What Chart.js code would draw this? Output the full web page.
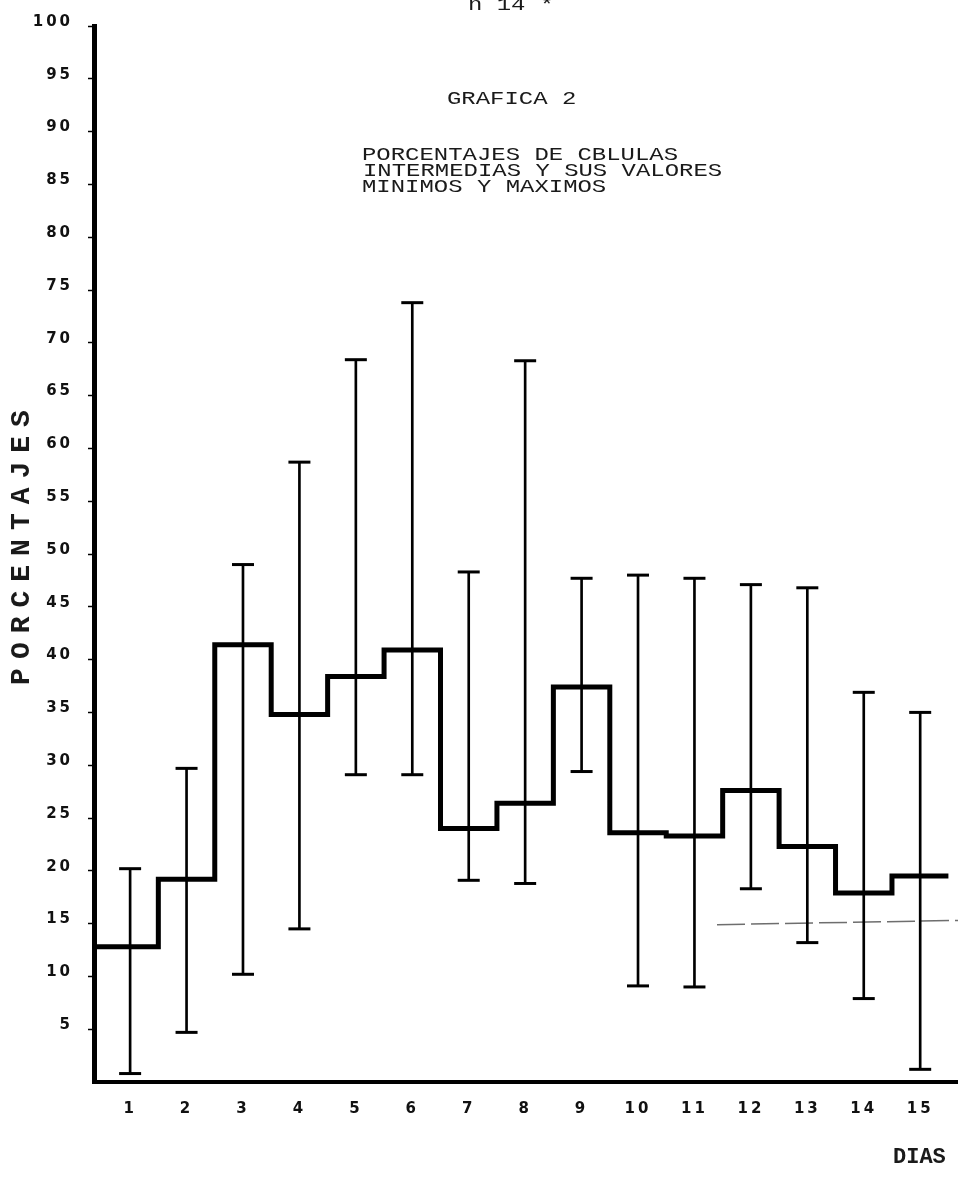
<!DOCTYPE html>
<html lang="es">
<head>
<meta charset="utf-8">
<title>Grafica 2 - Porcentajes de celulas intermedias</title>
<script src="https://cdn.jsdelivr.net/npm/chart.js@4.4.1/dist/chart.umd.min.js"></script>
<style>
  html, body { margin: 0; padding: 0; background: #fff; }
</style>
</head>
<body>
<canvas id="grafica" width="958" height="1187"></canvas>
<script>
// dias de observacion
const dias = [1, 2, 3, 4, 5, 6, 7, 8, 9, 10, 11, 12, 13, 14, 15];
// porcentaje medio de celulas intermedias (linea escalonada)
const promedios = [12.8, 19.2, 41.4, 34.8, 38.4, 40.9, 24.0, 26.4, 37.4, 23.6, 23.3, 27.6, 22.3, 17.9, 19.5];
// valores minimos y maximos de cada dia
const minimos = [0.8, 4.7, 10.2, 14.5, 29.1, 29.1, 19.1, 18.8, 29.4, 9.1, 9.0, 18.3, 13.2, 7.9, 1.2];
const maximos = [20.2, 29.7, 49.0, 58.7, 68.4, 73.8, 48.3, 68.3, 47.7, 48.0, 47.7, 47.1, 46.8, 36.9, 35.0];
// marcas del eje de porcentajes
const marcasY = [5, 10, 15, 20, 25, 30, 35, 40, 45, 50, 55, 60, 65, 70, 75, 80, 85, 90, 95, 100];
// trazo gris que aparece en la hoja (dias 11.4 a 15.7)
const lineaGrisX = [11.4, 15.67];
const lineaGrisY = [14.9, 15.3];

const X_MIN = 0.36;
const X_MAX = 15.67;

const ctxCanvas = document.getElementById('grafica').getContext('2d');
const tieneEspaciado = 'letterSpacing' in ctxCanvas;

// escalones: cada dia ocupa de d-0.5 a d+0.5
const escalones = dias.map((d, i) => ({ x: i === 0 ? X_MIN : d - 0.5, y: promedios[i] }));
escalones.push({ x: dias[dias.length - 1] + 0.5, y: promedios[promedios.length - 1] });

function maquina(ctx, texto, x, y) {
    // letra de maquina de escribir, algo ensanchada
    ctx.save();
    ctx.translate(x, y);
    ctx.scale(1.26, 1);
    ctx.fillText(texto, 0, 0);
    ctx.restore();
}

const textos = {
    id: 'textos',
    beforeDraw(chart) {
        const ctx = chart.ctx;
        ctx.save();
        ctx.fillStyle = '#fff';
        ctx.fillRect(0, 0, chart.width, chart.height);
        ctx.restore();
        if (tieneEspaciado) ctx.letterSpacing = '3px';
    },
    beforeDatasetsDraw(chart) {
        if (tieneEspaciado) chart.ctx.letterSpacing = '0px';
    },
    afterDraw(chart) {
        const ctx = chart.ctx;
        ctx.save();
        ctx.fillStyle = '#1a1a1a';
        ctx.textAlign = 'left';
        ctx.textBaseline = 'alphabetic';
        ctx.font = '19px "Liberation Mono"';
        maquina(ctx, 'n 14 *', 468, 10);
        maquina(ctx, 'GRAFICA 2', 447, 104);
        maquina(ctx, 'PORCENTAJES DE CBLULAS', 362, 160);
        maquina(ctx, 'INTERMEDIAS Y SUS VALORES', 363, 176);
        maquina(ctx, 'MINIMOS Y MAXIMOS', 362, 192);

        ctx.font = 'bold 22px "Liberation Mono"';
        ctx.fillText('DIAS', 893, 1163);

        // titulo vertical
        ctx.translate(22, 547);
        ctx.rotate(-Math.PI / 2);
        ctx.textAlign = 'center';
        ctx.textBaseline = 'middle';
        ctx.font = 'bold 28px "Liberation Mono"';
        if (tieneEspaciado) {
            ctx.letterSpacing = '9px';
            ctx.fillText('PORCENTAJES', 4, 0);
        } else {
            ctx.fillText('P O R C E N T A J E S', 0, 0);
        }
        ctx.restore();
    }
};

const fuenteTicks = { family: 'DejaVu Sans', size: 15, weight: 'bold' };

new Chart(ctxCanvas, {
    type: 'bar',
    data: {
        datasets: [
            {
                type: 'line',
                label: 'Promedio',
                data: escalones,
                stepped: 'before',
                borderColor: '#000',
                borderWidth: 5,
                pointRadius: 0,
                fill: false
            },
            {
                type: 'bar',
                label: 'Rango',
                data: dias.map((d, i) => ({ x: d, y: [minimos[i], maximos[i]] })),
                backgroundColor: '#000',
                borderWidth: 0,
                barThickness: 2
            },
            {
                type: 'scatter',
                label: 'Extremos',
                data: dias.map((d, i) => ({ x: d, y: minimos[i] }))
                    .concat(dias.map((d, i) => ({ x: d, y: maximos[i] }))),
                pointStyle: 'line',
                pointRadius: 11,
                pointBorderWidth: 3,
                pointBorderColor: '#000',
                showLine: false
            },
            {
                type: 'line',
                label: 'Trazo',
                data: lineaGrisX.map((x, i) => ({ x: x, y: lineaGrisY[i] })),
                borderColor: '#6e6e6e',
                borderWidth: 1.5,
                borderDash: [28, 6],
                pointRadius: 0,
                fill: false
            }
        ]
    },
    options: {
        responsive: false,
        animation: false,
        events: [],
        layout: { autoPadding: false, padding: { top: 26, right: 0, left: 0, bottom: 0 } },
        plugins: {
            legend: { display: false },
            tooltip: { enabled: false },
            title: { display: false }
        },
        scales: {
            x: {
                type: 'linear',
                min: X_MIN,
                max: X_MAX,
                offset: false,
                afterBuildTicks: s => { s.ticks = dias.map(d => ({ value: d })); },
                afterFit: s => { s.height = 105; s.paddingLeft = 0; s.paddingRight = 0; },
                grid: { display: true, offset: false, drawOnChartArea: false, drawTicks: false },
                border: { display: true, color: '#000', width: 4 },
                ticks: {
                    autoSkip: false,
                    maxRotation: 0,
                    padding: 18,
                    color: '#111',
                    font: fuenteTicks
                }
            },
            y: {
                type: 'linear',
                min: 0,
                max: 100,
                afterBuildTicks: s => { s.ticks = marcasY.map(v => ({ value: v })); },
                afterFit: s => { s.width = 94; s.paddingTop = 0; s.paddingBottom = 0; },
                grid: { display: true, drawOnChartArea: false, drawTicks: true, tickLength: 6, tickColor: '#000', tickWidth: 1.5 },
                border: { display: true, color: '#000', width: 5 },
                ticks: {
                    padding: 15,
                    labelOffset: -4,
                    color: '#111',
                    font: fuenteTicks
                }
            }
        }
    },
    plugins: [textos]
});
</script>
</body>
</html>
